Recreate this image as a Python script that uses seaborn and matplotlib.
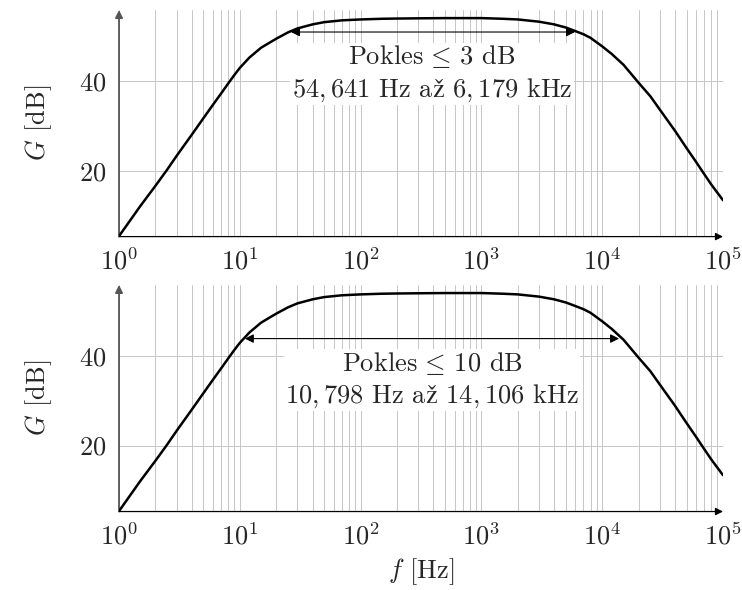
import numpy as np
import pandas as pd
import seaborn as sns
import matplotlib.pyplot as plt
from matplotlib.ticker import LogLocator, NullFormatter

# Gain curve (same amplifier in both panels)
freq = [1, 1.5, 2, 2.5, 3, 4, 5, 6, 7, 8, 9, 10, 12, 15, 20, 25, 30, 40, 50, 70, 100, 150,
        200, 300, 500, 1000, 1500, 2000, 3000, 4000, 5000, 6000, 7000, 8000, 10000, 12000,
        15000, 20000, 25000, 30000, 40000, 50000, 60000, 70000, 80000, 100000]
gain = [5.4, 12.1, 16.6, 20.2, 23.3, 28.0, 31.7, 34.7, 37.2, 39.4, 41.3, 42.9, 45.2, 47.4, 49.4,
        50.8, 51.7, 52.6, 53.1, 53.5, 53.7, 53.85, 53.9, 53.95, 54.0, 54.0, 53.85, 53.7, 53.2,
        52.6, 51.9, 51.1, 50.4, 49.6, 47.7, 46.0, 43.6, 39.6, 36.6, 33.6, 28.9, 25.0, 21.9,
        19.2, 16.9, 13.4]

# Band markers for each panel
band_lo = [26.5, 11.0]
band_hi = [5957, 13800]
band_level = [50.9, 43.85]
band_drop = [3, 10]
band_text = [r"$54,641$ Hz a$\mathrm{ž}$ $6,179$ kHz",
             r"$10,798$ Hz a$\mathrm{ž}$ $14,106$ kHz"]

sns.set_style("white")
plt.rcParams['font.family'] = ['cmr10', 'DejaVu Serif']
plt.rcParams['mathtext.fontset'] = 'cm'
plt.rcParams['axes.formatter.use_mathtext'] = True
plt.rcParams['font.size'] = 19

df = pd.DataFrame({'f': freq, 'G': gain})

fig = plt.figure(figsize=(7.42, 5.90), dpi=100)
axes = [fig.add_axes([0.1604, 0.599, 0.814, 0.384]),
        fig.add_axes([0.1604, 0.133, 0.814, 0.384])]

for i, ax in enumerate(axes):
    sns.lineplot(data=df, x='f', y='G', ax=ax, color='black', lw=1.8, zorder=5)
    ax.set_xscale('log')
    ax.set_xlim(1, 1e5)
    ax.set_ylim(5.3, 55.8)
    ax.set_yticks([20, 40])
    ax.xaxis.set_major_locator(LogLocator(base=10, numticks=10))
    ax.xaxis.set_minor_locator(LogLocator(base=10, subs=np.arange(2, 10), numticks=20))
    ax.xaxis.set_minor_formatter(NullFormatter())
    ax.grid(which='both', axis='x', color='#c6c6c6', lw=0.7)
    ax.grid(which='major', axis='y', color='#c6c6c6', lw=0.7)
    ax.tick_params(axis='x', which='major', direction='in', length=4, width=0.7,
                   color='#333333', pad=8)
    ax.tick_params(axis='x', which='minor', direction='in', length=3, width=0.6,
                   color='#333333')
    ax.tick_params(axis='y', direction='inout', length=7, width=0.7, color='#999999', pad=6)
    for s in ax.spines.values():
        s.set_visible(False)

    # axis lines with arrow heads
    ax.annotate('', xy=(0, 1), xytext=(0, 0), xycoords='axes fraction',
                arrowprops=dict(arrowstyle='-|>', color='#555555', lw=1.3,
                                mutation_scale=11, shrinkA=0, shrinkB=0), zorder=4)
    ax.annotate('', xy=(1, 0), xytext=(0, 0), xycoords='axes fraction',
                arrowprops=dict(arrowstyle='-|>', color='black', lw=0.9,
                                mutation_scale=11, shrinkA=0, shrinkB=0), zorder=4)

    # band arrow and label
    ax.annotate('', xy=(band_hi[i], band_level[i]), xytext=(band_lo[i], band_level[i]),
                arrowprops=dict(arrowstyle='<|-|>', color='black', lw=0.8,
                                mutation_scale=13, shrinkA=0, shrinkB=0), zorder=6)
    ax.text(390, band_level[i] - 9.2,
            "Pokles$\\,\\leq\\,$%d dB\n%s" % (band_drop[i], band_text[i]),
            ha='center', va='center', multialignment='center', linespacing=1.3,
            bbox=dict(facecolor='white', edgecolor='none', pad=1), zorder=3)

    ax.set_ylabel("$G$ [dB]", labelpad=18)
    ax.set_xlabel("")

axes[1].set_xlabel("$f$ [Hz]", labelpad=5)

fig.savefig("out.png", dpi=100)
